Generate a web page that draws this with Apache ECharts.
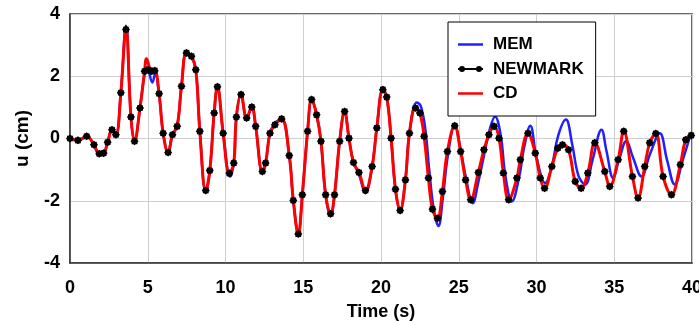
<!DOCTYPE html>
<html>
<head>
<meta charset="utf-8">
<script src="https://cdn.jsdelivr.net/npm/echarts@6/dist/echarts.min.js"></script>
<style>
html,body{margin:0;padding:0;background:#fff;}
#c{width:699px;height:321px;}
</style>
</head>
<body>
<div id="c"></div>
<script>
// ---- data ----
const xTicks = [0, 5, 10, 15, 20, 25, 30, 35, 40];
const yTicks = [-4, -2, 0, 2, 4];

const cdT = [0,0.51,1.07,1.54,1.88,2.16,2.42,2.7,2.95,3.27,3.6,3.92,4.15,4.5,4.8,4.92,5.26,5.45,5.73,5.99,6.31,6.59,6.89,7.17,7.49,7.81,8.09,8.35,8.73,8.99,9.27,9.48,9.85,10.25,10.53,10.7,11.0,11.36,11.69,11.94,12.37,12.58,12.86,13.18,13.61,14.1,14.36,14.68,14.94,15.28,15.54,15.86,16.14,16.44,16.76,17.01,17.34,17.66,17.94,18.23,18.58,19.0,19.43,19.73,20.12,20.37,20.65,20.93,21.23,21.57,21.83,22.22,22.5,22.77,23.05,23.31,23.63,23.95,24.27,24.74,25.12,25.44,25.77,26.26,26.62,26.94,27.27,27.59,27.87,28.21,28.74,28.96,29.45,29.92,30.24,30.52,30.99,31.37,31.67,32.06,32.49,32.87,33.3,33.75,34.39,34.71,35.25,35.61,36.17,36.53,36.96,37.28,37.67,38.14,38.68,39.25,39.6,39.95];
const cdU = [0.0,-0.06,0.07,-0.2,-0.49,-0.47,-0.12,0.28,0.12,1.47,3.55,0.69,-0.09,0.98,2.16,2.56,2.16,2.18,1.44,0.17,-0.45,0.12,0.39,1.68,2.75,2.64,2.21,0.23,-1.67,-1.03,0.82,1.66,0.17,-1.12,-0.79,0.69,1.41,0.66,1.01,0.39,-1.06,-0.79,0.17,0.44,0.63,-0.55,-1.99,-3.07,-1.81,0.23,1.25,0.76,-0.09,-1.81,-2.42,-1.81,-0.09,0.87,0.01,-0.77,-1.09,-1.67,-0.9,0.34,1.57,1.33,0.01,-1.63,-2.31,-1.33,0.17,0.98,0.82,0.07,-1.27,-2.27,-2.56,-1.7,-0.42,0.41,-0.42,-1.33,-1.97,-1.09,-0.36,0.12,0.39,0.01,-1.11,-1.97,-1.27,-0.68,0.17,-0.47,-1.27,-1.6,-0.9,-0.31,-0.2,-0.36,-1.38,-1.6,-1.11,-0.14,-1.06,-1.54,-0.68,0.23,-1.22,-1.91,-0.9,-0.14,0.16,-1.22,-1.81,-0.84,-0.04,0.1];

const newmarkT = [0,0.51,1.07,1.54,1.88,2.16,2.42,2.7,2.95,3.27,3.6,3.92,4.15,4.5,4.8,5.05,5.26,5.45,5.73,5.99,6.31,6.59,6.89,7.17,7.49,7.81,8.09,8.35,8.73,8.99,9.27,9.48,9.85,10.25,10.53,10.7,11.0,11.36,11.69,11.94,12.37,12.58,12.86,13.18,13.61,14.1,14.36,14.68,14.94,15.28,15.54,15.86,16.14,16.44,16.76,17.01,17.34,17.66,17.94,18.23,18.58,19.0,19.43,19.73,20.12,20.37,20.65,20.93,21.23,21.57,21.83,22.22,22.5,22.77,23.05,23.31,23.63,23.95,24.27,24.74,25.12,25.44,25.77,26.26,26.62,26.94,27.27,27.59,27.87,28.21,28.74,28.96,29.45,29.92,30.24,30.52,30.99,31.37,31.67,32.06,32.49,32.87,33.3,33.75,34.39,34.71,35.25,35.61,36.17,36.53,36.96,37.28,37.67,38.14,38.68,39.25,39.6,39.95];
const newmarkU = [0.0,-0.06,0.07,-0.2,-0.49,-0.47,-0.12,0.28,0.12,1.47,3.5,0.69,-0.09,0.98,2.16,2.2,2.16,2.18,1.44,0.17,-0.45,0.12,0.39,1.68,2.75,2.64,2.21,0.23,-1.67,-1.03,0.82,1.66,0.17,-1.12,-0.79,0.69,1.41,0.66,1.01,0.39,-1.06,-0.79,0.17,0.44,0.63,-0.55,-1.99,-3.07,-1.81,0.23,1.25,0.76,-0.09,-1.81,-2.42,-1.81,-0.09,0.87,0.01,-0.77,-1.09,-1.67,-0.9,0.34,1.57,1.33,0.01,-1.63,-2.31,-1.33,0.17,0.98,0.82,0.07,-1.27,-2.27,-2.56,-1.7,-0.42,0.41,-0.42,-1.33,-1.97,-1.09,-0.36,0.12,0.39,0.01,-1.11,-1.97,-1.27,-0.68,0.17,-0.47,-1.27,-1.6,-0.9,-0.31,-0.2,-0.36,-1.38,-1.6,-1.11,-0.14,-1.06,-1.54,-0.68,0.23,-1.22,-1.91,-0.9,-0.14,0.16,-1.22,-1.81,-0.84,-0.04,0.1];

const memT = [0,0.51,1.07,1.54,1.88,2.16,2.42,2.7,2.95,3.27,3.6,3.92,4.15,4.5,4.8,4.95,5.3,5.48,5.73,5.99,6.31,6.59,6.89,7.17,7.49,7.81,8.09,8.35,8.73,8.99,9.27,9.48,9.85,10.3,10.53,10.7,11.0,11.36,11.69,11.94,12.37,12.58,12.86,13.18,13.61,14.1,14.36,14.68,14.94,15.28,15.54,15.86,16.14,16.44,16.76,17.01,17.34,17.66,17.94,18.23,18.58,19.0,19.43,19.73,20.12,20.37,20.65,20.93,21.23,21.57,21.83,22.3,22.56,22.85,23.1,23.4,23.69,23.98,24.3,24.74,25.12,25.44,25.9,26.26,26.62,27.0,27.33,27.7,28.0,28.42,28.9,29.2,29.6,30.0,30.56,31.0,31.4,31.89,32.3,32.7,33.13,33.6,34.18,34.5,34.93,35.3,35.78,36.2,36.75,37.3,37.93,38.4,38.89,39.4,39.95];
const memU = [0.0,-0.06,0.07,-0.2,-0.49,-0.47,-0.12,0.28,0.12,1.47,3.62,0.69,-0.09,0.98,2.1,2.3,1.8,2.1,1.4,0.17,-0.45,0.12,0.39,1.68,2.75,2.64,2.21,0.23,-1.72,-1.03,0.82,1.66,0.17,-1.22,-0.79,0.69,1.41,0.66,1.01,0.39,-1.06,-0.79,0.17,0.5,0.63,-0.55,-1.99,-3.07,-1.81,0.23,1.25,0.76,-0.09,-1.81,-2.5,-1.81,-0.09,0.87,0.01,-0.77,-1.15,-1.75,-0.9,0.34,1.57,1.33,0.01,-1.63,-2.31,-1.33,0.17,1.16,1.04,0.3,-1.0,-2.3,-2.81,-1.9,-0.55,0.42,-0.35,-1.2,-2.08,-1.4,-0.55,0.3,0.71,0.1,-1.2,-2.02,-1.2,-0.3,0.41,-0.6,-1.43,-0.85,0.1,0.61,-0.2,-1.2,-1.48,-0.7,0.28,-0.4,-1.27,-0.7,-0.08,-0.6,-1.22,-0.5,0.17,-0.7,-1.48,-0.7,0.2];

const zip = (t, u) => t.map((v, i) => [v, u[i]]);

// gear-like marker
function starPath(n, rIn, rOut) {
  let d = '';
  for (let i = 0; i < 2 * n; i++) {
    const r = i % 2 ? rIn : rOut;
    const a = Math.PI * i / n;
    const x = (10 + r * Math.cos(a)).toFixed(2), y = (10 + r * Math.sin(a)).toFixed(2);
    d += (i ? 'L' : 'M') + x + ',' + y;
  }
  return 'path://' + d + 'Z';
}
const markerPath = starPath(8, 8.2, 10);
const lineIcon = 'path://M0,0h25v2.5h-25z';
const newmarkIcon = 'path://M0,3h25v2h-25zM1,4a3,3 0 1,1 6,0a3,3 0 1,1 -6,0zM18,4a3,3 0 1,1 6,0a3,3 0 1,1 -6,0z';

const font = 'Arial, "Liberation Sans", sans-serif';
const chart = echarts.init(document.getElementById('c'), null, {renderer: 'canvas'});
chart.setOption({
  animation: false,
  backgroundColor: '#fff',
  grid: {left: 70, right: 7, top: 14, bottom: 58, outerBoundsMode: 'none', containLabel: false,
         show: true, borderColor: '#3a3a3a', borderWidth: 1.5, backgroundColor: 'transparent'},
  xAxis: {
    type: 'value', min: xTicks[0], max: xTicks[xTicks.length - 1], interval: 5,
    name: 'Time (s)', nameLocation: 'middle', nameGap: 40,
    nameTextStyle: {fontFamily: font, fontWeight: 'bold', fontSize: 18, color: '#000'},
    axisLine: {show: true, onZero: false, lineStyle: {color: '#3a3a3a', width: 1.5}},
    axisTick: {show: false},
    axisLabel: {fontFamily: font, fontWeight: 'bold', fontSize: 18, color: '#000', margin: 16},
    splitLine: {show: true, lineStyle: {color: '#cfcfcf', width: 1}}
  },
  yAxis: {
    type: 'value', min: yTicks[0], max: yTicks[yTicks.length - 1], interval: 2,
    name: 'u (cm)', nameLocation: 'middle', nameGap: 38, nameRotate: 90,
    nameTextStyle: {fontFamily: font, fontWeight: 'bold', fontSize: 19, color: '#000'},
    axisLine: {show: true, lineStyle: {color: '#3a3a3a', width: 1.5}},
    axisTick: {show: false},
    axisLabel: {fontFamily: font, fontWeight: 'bold', fontSize: 18, color: '#000', margin: 10},
    splitLine: {show: true, lineStyle: {color: '#cfcfcf', width: 1}}
  },
  legend: {
    orient: 'vertical', left: 448, top: 22,
    padding: [14, 12, 14, 10],
    itemWidth: 25, itemHeight: 14, itemGap: 7.5,
    backgroundColor: '#fff', borderColor: '#000', borderWidth: 1,
    textStyle: {fontFamily: font, fontWeight: 'bold', fontSize: 17, color: '#000', padding: [0, 0, 0, 5]},
    data: [
      {name: 'MEM', icon: lineIcon, itemStyle: {color: '#1f1fff'}},
      {name: 'NEWMARK', icon: newmarkIcon, itemStyle: {color: '#000'}},
      {name: 'CD', icon: lineIcon, itemStyle: {color: '#ff0000'}}
    ]
  },
  series: [
    {name: 'MEM', type: 'line', data: zip(memT, memU), smooth: 0.4, symbol: 'none',
     lineStyle: {color: '#1f1fff', width: 2.5}, itemStyle: {color: '#1f1fff'}, z: 2},
    {name: 'CD', type: 'line', data: zip(cdT, cdU), smooth: 0.4, symbol: 'none',
     lineStyle: {color: '#ff0000', width: 3}, itemStyle: {color: '#ff0000'}, z: 3},
    {name: 'NEWMARK', type: 'line', data: zip(newmarkT, newmarkU), smooth: 0.4,
     symbol: markerPath, symbolSize: 8, showAllSymbol: true,
     lineStyle: {color: '#000', width: 0, opacity: 0}, itemStyle: {color: '#000'}, z: 4}
  ]
});
</script>
</body>
</html>
